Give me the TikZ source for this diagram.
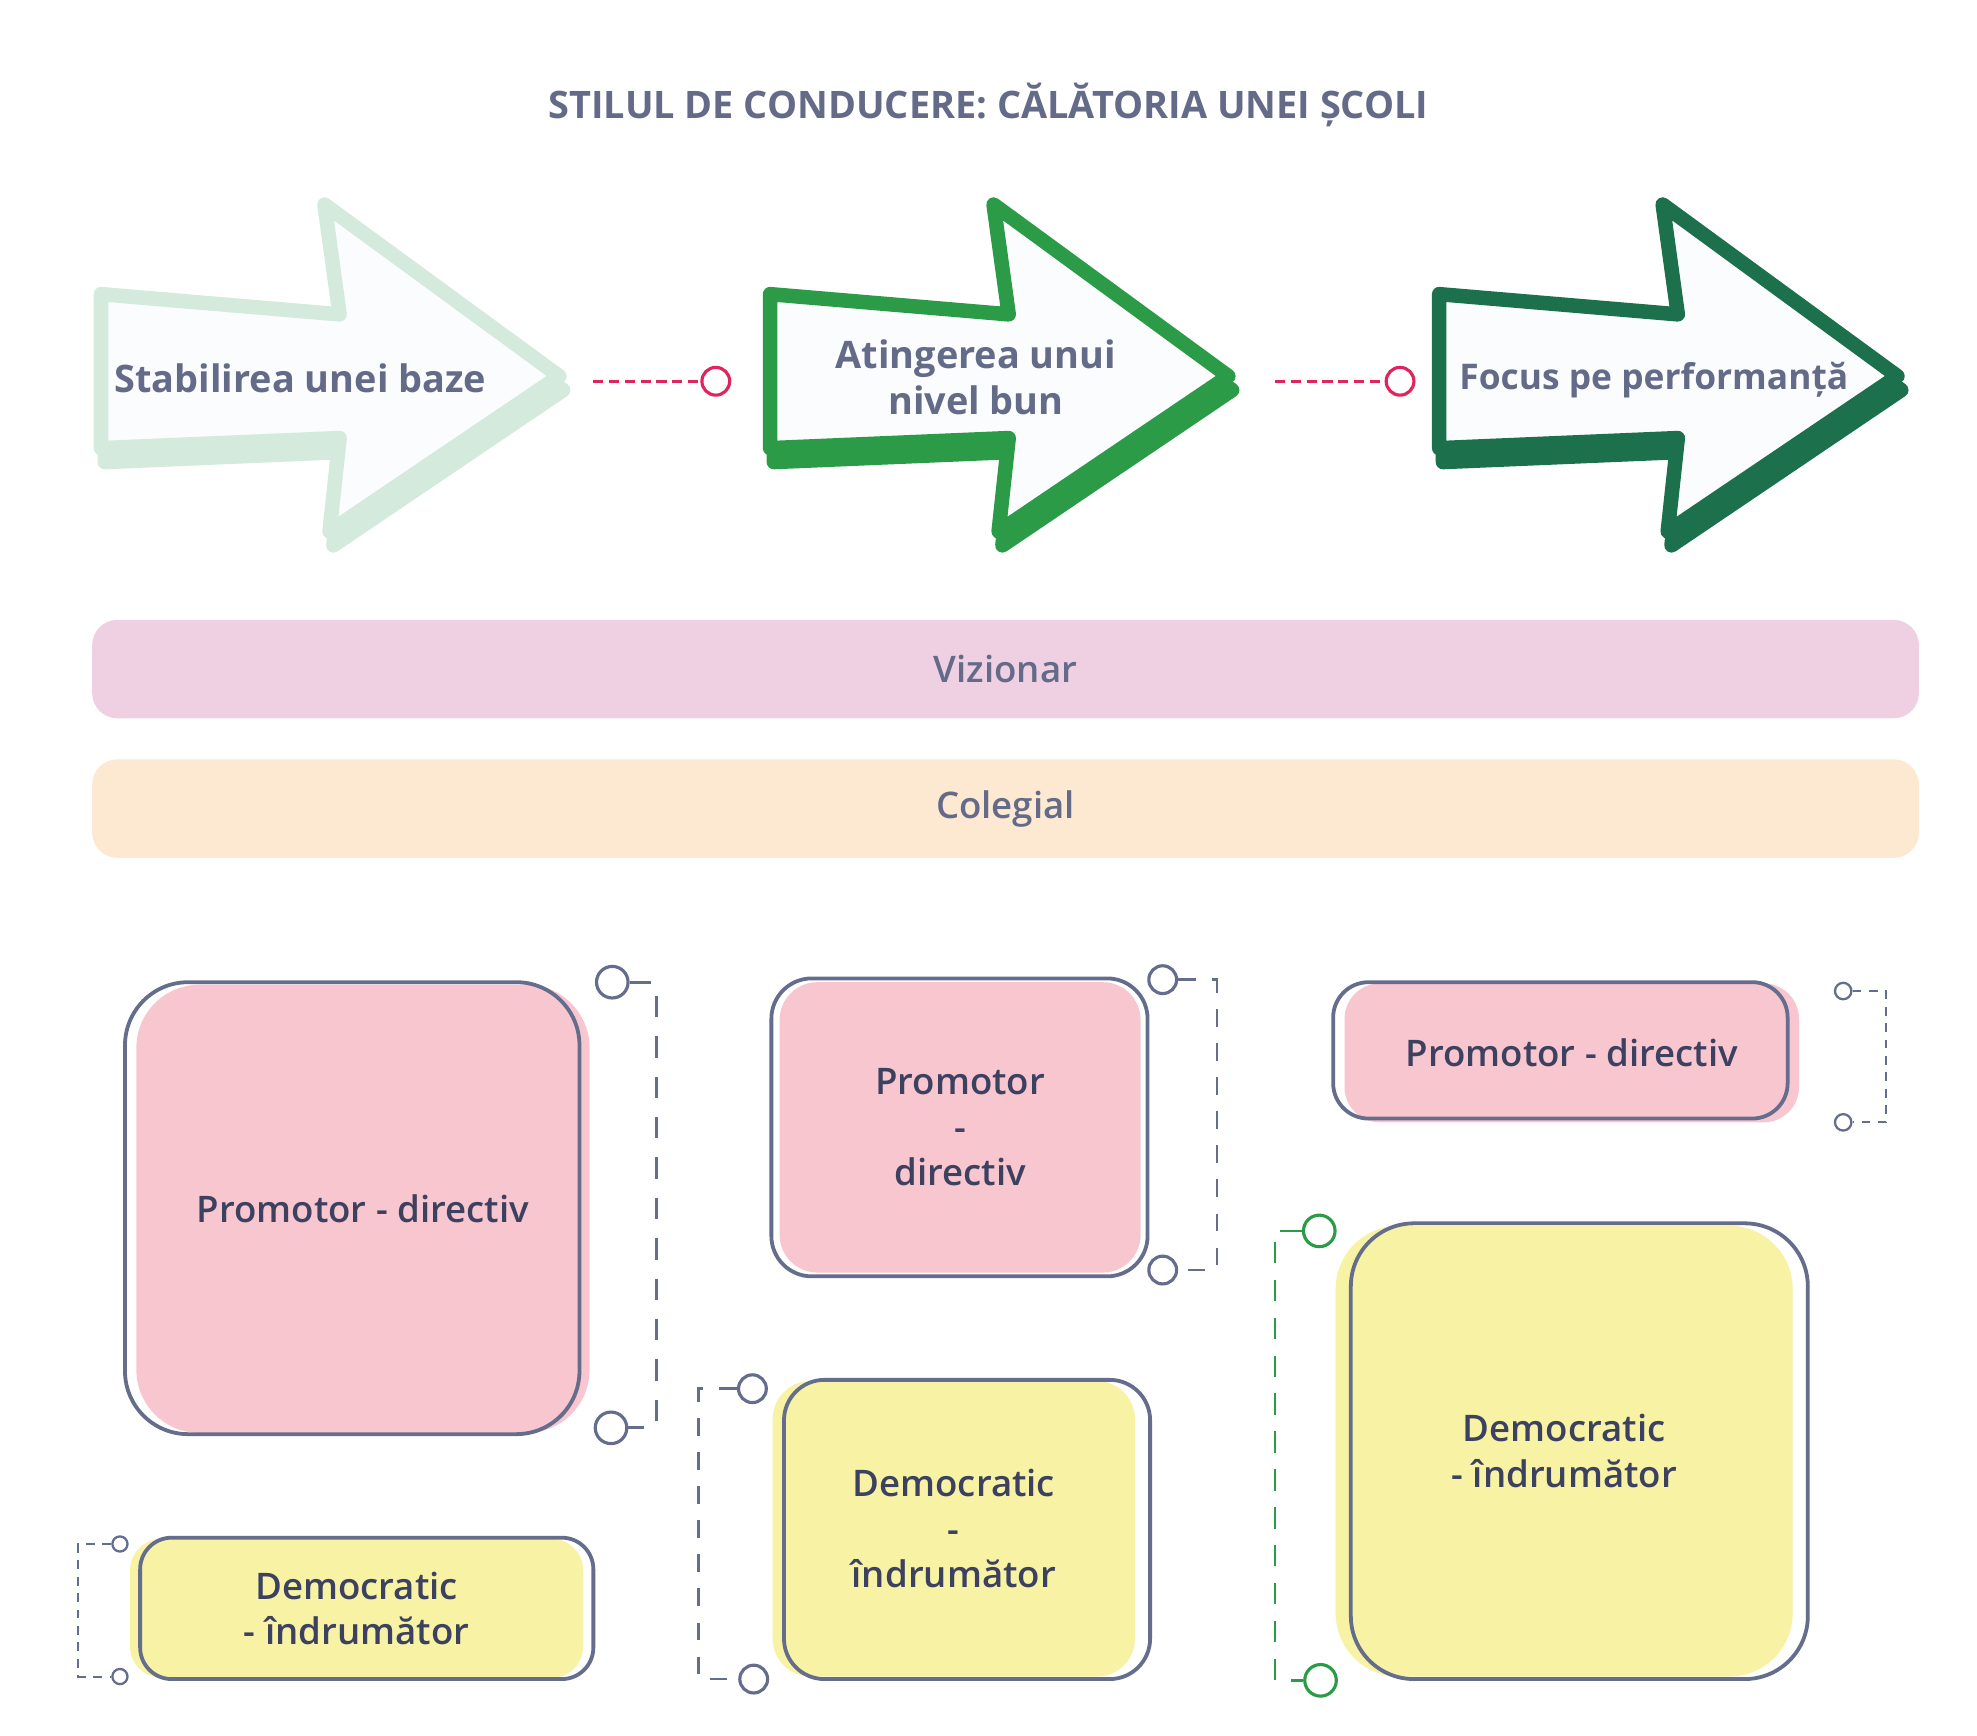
\documentclass[tikz,border=0pt]{standalone}
\usepackage{fontspec}
\setmainfont{Open Sans}
\IfFontExistsTF{Open Sans SemiBold}{\newfontfamily\semifont{Open Sans SemiBold}}{%
  \IfFontExistsTF{Open Sans Semibold}{\newfontfamily\semifont{Open Sans Semibold}}{%
    \newfontfamily\semifont{Open Sans}[FakeBold=1]}}

\definecolor{titleink}{HTML}{646B89}
\definecolor{cardink}{HTML}{3D4160}
\definecolor{frameink}{HTML}{646D8B}
\definecolor{stageA}{HTML}{D3EADC}
\definecolor{stageB}{HTML}{2B9B48}
\definecolor{stageC}{HTML}{1D704C}
\definecolor{stagefill}{HTML}{FBFCFD}
\definecolor{linkred}{HTML}{E0245E}
\definecolor{visionfill}{HTML}{EFD0E3}
\definecolor{peerfill}{HTML}{FDE8D2}
\definecolor{pinkfill}{HTML}{F8C6CF}
\definecolor{yellowfill}{HTML}{F7F2A4}

\begin{document}
\begin{tikzpicture}[x=1pt,y=-1pt,
    stage/.style={line width=11.5pt, line join=round},
    stagelabel/.style={text=titleink, font=\bfseries\fontsize{30}{36}\selectfont, align=center},
    link/.style={draw=linkred, line width=2.5pt, dash pattern=on 8pt off 4.5pt},
    dot/.style={circle, draw=linkred, line width=2.5pt, inner sep=0pt, minimum size=22pt},
    band/.style={rounded corners=20pt, minimum width=1447pt, minimum height=78pt, text=titleink, font=\semifont\fontsize{29}{35}\selectfont},
    card/.style={inner sep=0pt, text=cardink, align=center, font=\semifont\fontsize{29}{36}\selectfont},
    frame/.style={draw=frameink, line width=3pt, inner sep=0pt},
    knob/.style={circle, draw=frameink, line width=2.5pt, inner sep=0pt},
    bracket/.style={draw=frameink, line width=2.2pt}]
        \useasboundingbox (0,0) rectangle (1566,1375);
        \fill[white] (0,0) rectangle (1566,1375);
        \node[text=titleink, font=\bfseries\fontsize{30}{36}\selectfont] (title) at (783,83) {STILUL DE CONDUCERE: CĂLĂTORIA UNEI ȘCOLI};
        % the three stage arrows, shadow first
        \foreach \x/\col in {85/stageA,615/stageB,1145/stageC}{
            \draw[stage, draw=\col, shift={(3,11)}] (\x-5,233) -- (\x+184,249) -- (\x+172,162) -- (\x+358,298) -- (\x+176,421) -- (\x+184,347) -- (\x-5,355) -- cycle;
            \draw[stage, draw=\col, fill=stagefill] (\x-5,233) -- (\x+184,249) -- (\x+172,162) -- (\x+358,298) -- (\x+176,421) -- (\x+184,347) -- (\x-5,355) -- cycle;
        }
        \node[stagelabel] (base) at (238,300) {Stabilirea unei baze};
        \node[stagelabel] (level) at (773,299) {Atingerea unui\\nivel bun};
        \node[stagelabel, font=\bfseries\fontsize{28}{34}\selectfont] (focus) at (1310,301) {Focus pe performanță};
        \coordinate (baseend) at (470,302);
        \coordinate (levelend) at (1010,302);
        \node[dot] (dot1) at (567,302) {};
        \node[dot] (dot2) at (1109,302) {};
        \draw[link] (baseend) -- (dot1);
        \draw[link] (levelend) -- (dot2);
        % styles across the whole journey
        \node[band, fill=visionfill] (vision) at (796.5,530) {Vizionar};
        \node[band, fill=peerfill] (peer) at (796.5,640.5) {Colegial};
        % cards
        \node[card, fill=pinkfill, rounded corners=50pt, minimum width=359pt, minimum height=355pt] (p1) at (287.5,957.5) {Promotor - directiv};
        \node[frame, rounded corners=50pt, minimum width=360pt, minimum height=358pt] (p1frame) at (279,957) {};
        \node[card, fill=pinkfill, rounded corners=30pt, minimum width=286pt, minimum height=230pt] (p2) at (760.5,893) {Promotor\\-\\directiv};
        \node[frame, rounded corners=32pt, minimum width=298pt, minimum height=236pt] (p2frame) at (760,893) {};
        \node[card, fill=pinkfill, rounded corners=28pt, minimum width=360pt, minimum height=110pt] (p3) at (1245,834) {Promotor - directiv};
        \node[frame, rounded corners=28pt, minimum width=360pt, minimum height=108pt] (p3frame) at (1236,832) {};
        \node[card, fill=yellowfill, rounded corners=25pt, minimum width=359pt, minimum height=110pt] (d1) at (282.5,1274) {Democratic\\- îndrumător};
        \node[frame, rounded corners=25pt, minimum width=359pt, minimum height=112pt] (d1frame) at (290.5,1274) {};
        \node[card, fill=yellowfill, rounded corners=30pt, minimum width=287pt, minimum height=234pt] (d2) at (755.5,1211) {Democratic\\-\\îndrumător};
        \node[frame, rounded corners=32pt, minimum width=290pt, minimum height=237pt] (d2frame) at (766,1211.5) {};
        \node[card, fill=yellowfill, rounded corners=50pt, minimum width=362pt, minimum height=357pt] (d3) at (1239,1149.5) {Democratic\\- îndrumător};
        \node[frame, rounded corners=50pt, minimum width=362pt, minimum height=361pt] (d3frame) at (1251,1149.5) {};
        % brackets
        \node[knob, minimum size=25pt] (k1a) at (485,778) {};
        \node[knob, minimum size=25pt] (k1b) at (484,1131) {};
        \draw[bracket, dash pattern=on 17pt off 15pt] (k1a) -- (520,778) -- (520,1131) -- (k1b);
        \node[knob, minimum size=22pt] (k2a) at (921,776) {};
        \node[knob, minimum size=22pt] (k2b) at (921,1006) {};
        \draw[bracket, dash pattern=on 14pt off 13pt] (k2a) -- (964,776) -- (964,1006) -- (k2b);
        \node[knob, minimum size=13pt, line width=1.8pt] (k3a) at (1460,785) {};
        \node[knob, minimum size=13pt, line width=1.8pt] (k3b) at (1460,889) {};
        \draw[bracket, line width=1.6pt, dash pattern=on 7pt off 6pt] (k3a) -- (1494,785) -- (1494,889) -- (k3b);
        \node[knob, minimum size=12pt, line width=1.8pt] (k4a) at (95,1223) {};
        \node[knob, minimum size=12pt, line width=1.8pt] (k4b) at (95,1328) {};
        \draw[bracket, line width=1.6pt, dash pattern=on 7pt off 6pt] (k4a) -- (62,1223) -- (62,1328) -- (k4b);
        \node[knob, minimum size=22pt] (k5a) at (596,1100) {};
        \node[knob, minimum size=22pt] (k5b) at (597,1330) {};
        \draw[bracket, dash pattern=on 14pt off 13pt] (k5a) -- (553,1100) -- (553,1330) -- (k5b);
        \node[knob, draw=stageB, minimum size=25pt] (k6a) at (1045,975) {};
        \node[knob, draw=stageB, minimum size=25pt] (k6b) at (1046,1331) {};
        \draw[bracket, draw=stageB, dash pattern=on 17pt off 13pt] (k6a) -- (1010,975) -- (1010,1331) -- (k6b);
    \end{tikzpicture}
\end{document}
